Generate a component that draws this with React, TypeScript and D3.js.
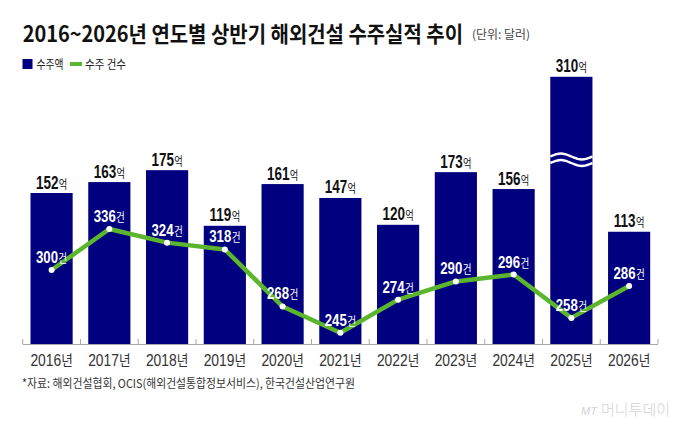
import React from 'react'
import * as d3 from 'd3'

const years = ['2016', '2017', '2018', '2019', '2020', '2021', '2022', '2023', '2024', '2025', '2026']
const amounts = [152, 163, 175, 119, 161, 147, 120, 173, 156, 310, 113]
const counts = [300, 336, 324, 318, 268, 245, 274, 290, 296, 258, 286]

// bars taller than this get a wave break and are cut off
const BREAK_AT = 269

const W = 680
const H = 425
const BASE_Y = 344
const NAVY = '#01017f'
const GREEN = '#5bb62e'
const KR = '"Noto Sans CJK KR", "Noto Sans", sans-serif'
const NUM = '"Liberation Sans", Arial, sans-serif'

const x = d3.scaleBand<string>().domain(years).range([22.7, 658]).paddingInner(0.27).paddingOuter(0.135)
const yBar = d3.scaleLinear().domain([0, 300]).range([BASE_Y, 46])
const yLine = d3.scaleLinear().domain([200, 340]).range([384, 224.4])

const wavePath = (x0: number, x1: number, cy: number) => {
  const pts = d3.range(0, 1.0001, 0.05).map((t) => [x0 + (x1 - x0) * t, cy - 3 * Math.sin(2 * Math.PI * t)] as [number, number])
  return d3.line().curve(d3.curveBasis)(pts) ?? ''
}

// condensed label: text squeezed horizontally around its anchor point
const Narrow = ({ cx, y, sx, fill, children }: { cx: number; y: number; sx: number; fill: string; children: React.ReactNode }) => (
  <g transform={`translate(${cx},${y}) scale(${sx},1)`}>
    <text x={0} y={0} textAnchor="middle" fill={fill}>
      {children}
    </text>
  </g>
)

export default function App() {
  const bw = x.bandwidth()
  const linePath = d3
    .line<number>()
    .x((_, i) => (x(years[i]) ?? 0) + bw / 2)
    .y((d) => yLine(d))(counts) ?? ''
  const step = x.step()
  const tickXs = d3.range(years.length + 1).map((i) => 22.7 + i * step)

  return (
    <svg width={W} height={H} style={{ position: 'absolute', left: 0, top: 0, background: '#fff' }}>
      {/* title */}
      <g transform="translate(22.7,41.5) scale(0.86,1)">
        <text x={0} y={0} fontFamily={KR} fontWeight={700} fontSize={22} fill="#111" textLength={512} lengthAdjust="spacingAndGlyphs">
          2016~2026년 연도별 상반기 해외건설 수주실적 추이
        </text>
      </g>
      <g transform="translate(472,39) scale(0.88,1)">
        <text x={0} y={0} fontFamily={KR} fontSize={12} fill="#444" textLength={66} lengthAdjust="spacingAndGlyphs">
          (단위: 달러)
        </text>
      </g>

      {/* legend */}
      <rect x={22.5} y={59} width={10} height={10} fill={NAVY} />
      <text x={36.5} y={68.5} fontFamily={KR} fontSize={12.5} fill="#222" textLength={27} lengthAdjust="spacingAndGlyphs">
        수주액
      </text>
      <rect x={70} y={62} width={12} height={4} fill={GREEN} />
      <text x={85} y={68.5} fontFamily={KR} fontSize={12.5} fill="#222" textLength={41} lengthAdjust="spacingAndGlyphs">
        수주 건수
      </text>

      {/* bars */}
      {years.map((yr, i) => {
        const v = amounts[i]
        const shown = Math.min(v, BREAK_AT)
        const bx = x(yr) ?? 0
        const top = yBar(shown)
        return (
          <g key={yr}>
            <rect x={bx} y={top} width={bw} height={BASE_Y - top} fill={NAVY} />
            {v > BREAK_AT && (
              <g fill="none" stroke="#fff" strokeWidth={2.4}>
                <path d={wavePath(bx, bx + bw, 156.5)} />
                <path d={wavePath(bx, bx + bw, 163)} />
              </g>
            )}
            <Narrow cx={bx + bw / 2} y={top - 4.5} sx={0.77} fill="#111">
              <tspan fontFamily={NUM} fontWeight={700} fontSize={17.5}>{v}</tspan>
              <tspan fontFamily={KR} fontSize={12} dx={0.5}>억</tspan>
            </Narrow>
          </g>
        )
      })}

      {/* x axis */}
      <line x1={22.7} x2={658} y1={BASE_Y + 0.5} y2={BASE_Y + 0.5} stroke="#a8a8a8" strokeWidth={1} />
      {tickXs.map((tx, i) => (
        <line key={i} x1={tx} x2={tx} y1={BASE_Y - 5} y2={BASE_Y} stroke="#a8a8a8" strokeWidth={1} />
      ))}
      {years.map((yr) => (
        <Narrow key={yr} cx={(x(yr) ?? 0) + bw / 2} y={366} sx={0.84} fill="#333">
          <tspan fontFamily={NUM} fontSize={16.5}>{yr}</tspan>
          <tspan fontFamily={KR} fontSize={15}>년</tspan>
        </Narrow>
      ))}

      {/* order count line */}
      <path d={linePath} fill="none" stroke={GREEN} strokeWidth={4.5} strokeLinejoin="round" />
      {counts.map((c, i) => {
        const cx = (x(years[i]) ?? 0) + bw / 2
        const cy = yLine(c)
        return (
          <g key={years[i]}>
            <circle cx={cx} cy={cy} r={3} fill="#fff" />
            <Narrow cx={cx} y={cy - 7} sx={0.8} fill="#fff">
              <tspan fontFamily={NUM} fontWeight={700} fontSize={16.5}>{c}</tspan>
              <tspan fontFamily={KR} fontSize={12} dx={0.5}>건</tspan>
            </Narrow>
          </g>
        )
      })}

      {/* source */}
      <text x={22} y={388} fontFamily={KR} fontSize={12} fill="#333" textLength={333} lengthAdjust="spacingAndGlyphs">
        *자료: 해외건설협회, OCIS(해외건설통합정보서비스), 한국건설산업연구원
      </text>
      <text x={670} y={415} textAnchor="end" fill="#d2d2d2">
        <tspan fontFamily={NUM} fontStyle="italic" fontSize={11}>MT</tspan>
        <tspan fontFamily={KR} fontWeight={300} fontSize={15} dx={4}>머니투데이</tspan>
      </text>
    </svg>
  )
}
